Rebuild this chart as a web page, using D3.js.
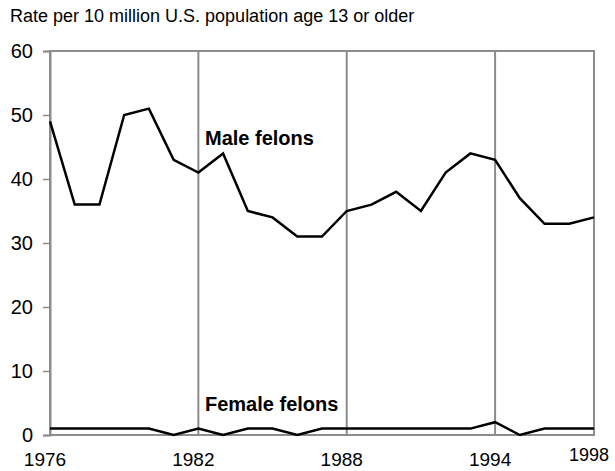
<!DOCTYPE html>
<html>
<head>
<meta charset="utf-8">
<script src="https://cdn.jsdelivr.net/npm/d3@7"></script>
<style>
  body { margin: 0; background: #fff; }
  svg text { font-family: "Liberation Sans", Arial, sans-serif; }
</style>
</head>
<body>
<div id="chart"></div>
<script>
const years = d3.range(1976, 1999);
const maleRates = [49, 36, 36, 50, 51, 43, 41, 44, 35, 34, 31, 31, 35, 36, 38, 35, 41, 44, 43, 37, 33, 33, 34];
const femaleRates = [1, 1, 1, 1, 1, 0, 1, 0, 1, 1, 0, 1, 1, 1, 1, 1, 1, 1, 2, 0, 1, 1, 1];
const yTicks = [0, 10, 20, 30, 40, 50, 60];
const xLabels = [1976, 1982, 1988, 1994];
const gridYears = [1982, 1988, 1994];

const width = 615, height = 471;
const plotLeft = 50, plotRight = 594, plotTop = 51, plotBottom = 435;

const svg = d3.select('#chart').append('svg')
    .attr('width', width)
    .attr('height', height);

const x = d3.scaleLinear().domain([1976, 1998]).range([plotLeft, plotRight]);
const y = d3.scaleLinear().domain([0, 60]).range([plotBottom, plotTop]);

// title
svg.append('text')
    .attr('x', 10).attr('y', 22)
    .attr('font-size', '18px')
    .attr('fill', '#000')
    .text('Rate per 10 million U.S. population age 13 or older');

// frame and grid
const gray = '#8c8c8c';
svg.append('rect')
    .attr('x', plotLeft).attr('y', plotTop)
    .attr('width', plotRight - plotLeft).attr('height', plotBottom - plotTop)
    .attr('fill', 'none').attr('stroke', gray).attr('stroke-width', 2);

svg.selectAll('.grid').data(gridYears).enter().append('line')
    .attr('x1', d => x(d)).attr('x2', d => x(d))
    .attr('y1', plotTop).attr('y2', plotBottom)
    .attr('stroke', gray).attr('stroke-width', 2);

// y axis
const yAxis = svg.append('g')
    .attr('transform', `translate(${plotLeft},0)`)
    .call(d3.axisLeft(y).tickValues(yTicks).tickSize(7).tickPadding(10).tickFormat(d3.format('d')));
yAxis.select('.domain').attr('stroke', gray).attr('stroke-width', 2);
yAxis.selectAll('.tick line').attr('stroke', gray).attr('stroke-width', 1.5);
yAxis.selectAll('.tick text')
    .attr('font-size', '20px')
    .attr('fill', '#000')
    .attr('font-family', '"Liberation Sans", Arial, sans-serif');

// x labels
svg.selectAll('.xlab').data(xLabels).enter().append('text')
    .attr('x', d => x(d) - 5)
    .attr('y', 466)
    .attr('text-anchor', 'middle')
    .attr('font-size', '19px')
    .text(d => d);
svg.append('text')
    .attr('x', x(1998) - 5)
    .attr('y', 461)
    .attr('text-anchor', 'middle')
    .attr('font-size', '18px')
    .text('1998');

// lines
const line = d3.line()
    .x((d, i) => x(years[i]))
    .y(d => y(d));

svg.append('path')
    .datum(maleRates)
    .attr('d', line)
    .attr('fill', 'none')
    .attr('stroke', '#000')
    .attr('stroke-width', 2.5)
    .attr('stroke-linejoin', 'miter');

svg.append('path')
    .datum(femaleRates)
    .attr('d', line)
    .attr('fill', 'none')
    .attr('stroke', '#000')
    .attr('stroke-width', 2.5);

// series labels
svg.append('text')
    .attr('x', 205).attr('y', 145)
    .attr('font-size', '20px')
    .attr('font-weight', 'bold')
    .text('Male felons');
svg.append('text')
    .attr('x', 205).attr('y', 411)
    .attr('font-size', '20px')
    .attr('font-weight', 'bold')
    .text('Female felons');
</script>
</body>
</html>
